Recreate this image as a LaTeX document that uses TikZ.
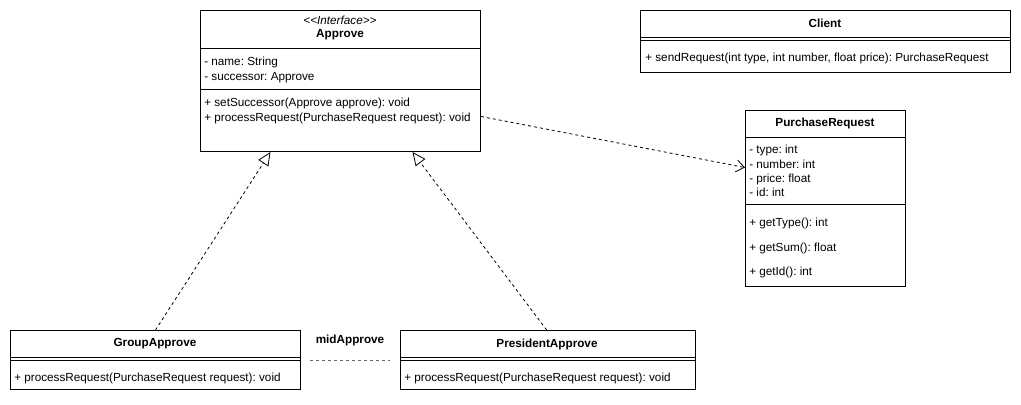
\documentclass[tikz,border=0pt]{standalone}
\usepackage{fontspec}
\setmainfont{Liberation Sans}
\usetikzlibrary{arrows.meta, positioning}
\frenchspacing

\tikzset{
  umlbox/.style={draw, line width=0.75pt, anchor=north west, inner sep=0pt},
  divider/.style={line width=0.6pt},
  realize/.style={line width=0.6pt, dash pattern=on 2.25pt off 2.25pt,
    -{Triangle[open, length=10pt, width=9pt, fill=white]}},
  depend/.style={line width=0.6pt, dash pattern=on 2.25pt off 2.25pt,
    -{Straight Barb[length=6pt, width=9pt]}},
  title/.style={font=\fontsize{8.8}{10.7}\selectfont\bfseries},
  member/.style={font=\fontsize{8.8}{10.7}\selectfont, align=left, anchor=west}
}

\begin{document}
\begin{tikzpicture}[x=0.75pt, y=-0.75pt, every node/.style={inner sep=0pt}]
        \useasboundingbox (0,0) rectangle (1021,404);
        % class boxes
        \node[umlbox, minimum width=210pt, minimum height=105.75pt] (approve) at (200,10) {};
        \node[umlbox, minimum width=277.5pt, minimum height=46.5pt] (client) at (640,10) {};
        \node[umlbox, minimum width=120pt, minimum height=132pt] (purchase) at (745,110) {};
        \node[umlbox, minimum width=217.5pt, minimum height=44.25pt] (group) at (10,330) {};
        \node[umlbox, minimum width=221.25pt, minimum height=44.25pt] (president) at (400,330) {};
        % compartments
        \draw[divider] (approve.west |- 0,48) -- (approve.east |- 0,48);
        \draw[divider] (approve.west |- 0,89) -- (approve.east |- 0,89);
        \draw[divider] (purchase.west |- 0,137) -- (purchase.east |- 0,137);
        \draw[divider] (purchase.west |- 0,204) -- (purchase.east |- 0,204);
        \foreach \b/\y in {client/37, group/357, president/357}{
          \draw[divider] (\b.west |- 0,\y) -- (\b.east |- 0,\y);
          \draw[divider] (\b.west |- 0,\y+3) -- (\b.east |- 0,\y+3);}
        % texts
        \node[font=\fontsize{8.8}{10.7}\selectfont\itshape] (apStereo) at (340,20) {<{}<Interface>{}>};
        \node[title] (apName) at (340,35) {Approve};
        \node[member] (apFields) at (204,70) {- name: String\\- successor: Approve};
        \node[member] (apMethods) at (204,111) {+ setSuccessor(Approve approve): void\\+ processRequest(PurchaseRequest request): void};
        \node[title] (clName) at (825,23) {Client};
        \node[member] (clMethods) at (645,58) {+ sendRequest(int type, int number, float price): PurchaseRequest};
        \node[title] (prName) at (825,123) {PurchaseRequest};
        \node[member] (prFields) at (749,171) {- type: int\\- number: int\\- price: float\\- id: int};
        \node[member] (prMethods) at (749,248) {+ getType(): int\\[8pt]+ getSum(): float\\[8pt]+ getId(): int};
        \node[title] (grName) at (155,344) {GroupApprove};
        \node[member] (grMethods) at (14,378) {+ processRequest(PurchaseRequest request): void};
        \node[title] (psName) at (547,344) {PresidentApprove};
        \node[member] (psMethods) at (404,378) {+ processRequest(PurchaseRequest request): void};
        % connectors
        \draw[realize] (group.north) -- ([xshift=-52.5pt]approve.south);
        \draw[realize] ([xshift=-1pt]president.north) -- ([xshift=54pt]approve.south);
        \draw[depend] ([yshift=-26.6pt]approve.east) -- ([yshift=23.25pt]purchase.west);
        \coordinate (midL) at (310,360);
        \coordinate (midR) at (390,360);
        \draw[line width=0.6pt, black!60, dash pattern=on 2.25pt off 2.25pt] (midL) -- (midR);
        \node[title] (midName) at (350,340) {midApprove};
      \end{tikzpicture}
\end{document}
